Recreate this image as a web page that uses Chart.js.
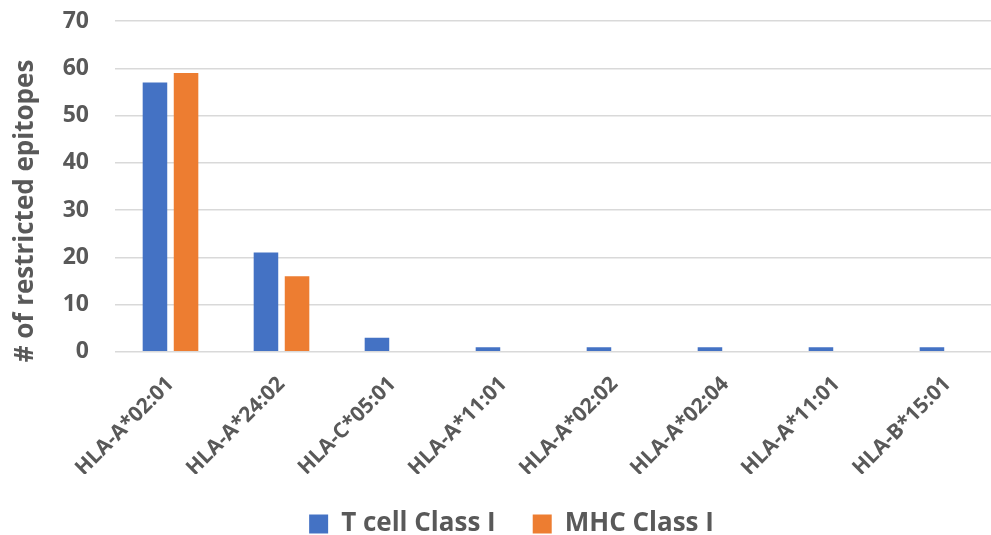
<!DOCTYPE html>
<html>
<head>
<meta charset="utf-8">
<script src="https://cdn.jsdelivr.net/npm/chart.js@4"></script>
<style>
  html, body { margin: 0; padding: 0; background: #ffffff; overflow: hidden; }
  #wrap { width: 1003px; height: 535px; position: relative; }
</style>
</head>
<body>
<div id="wrap"><canvas id="chart"></canvas></div>
<script>
// HLA alleles and the number of restricted epitopes per allele
const alleles = ['HLA-A*02:01', 'HLA-A*24:02', 'HLA-C*05:01', 'HLA-A*11:01',
                 'HLA-A*02:02', 'HLA-A*02:04', 'HLA-A*11:01', 'HLA-B*15:01'];
const tCellClassI = [57, 21, 3, 1, 1, 1, 1, 1];
const mhcClassI   = [59, 16, 0, 0, 0, 0, 0, 0];
const seriesNames = ['T cell Class I', 'MHC Class I'];
const yTicks = [0, 10, 20, 30, 40, 50, 60, 70];
const yTitle = '# of restricted epitopes';

const textColor = '#595959';
const fontFamily = '"Open Sans", "Liberation Sans", sans-serif';

// vertical axis title, drawn beside the value labels
const yTitlePlugin = {
  id: 'yTitle',
  afterDraw(chart) {
    const ctx = chart.ctx;
    ctx.save();
    ctx.translate(26, 211);
    ctx.rotate(-Math.PI / 2);
    ctx.font = 'bold 26px ' + fontFamily;
    ctx.fillStyle = textColor;
    ctx.textAlign = 'center';
    ctx.textBaseline = 'middle';
    ctx.fillText(yTitle, 0, 0);
    ctx.restore();
  }
};

new Chart(document.getElementById('chart'), {
  type: 'bar',
  data: {
    labels: alleles,
    datasets: [
      { label: seriesNames[0], data: tCellClassI, backgroundColor: '#4472C4' },
      { label: seriesNames[1], data: mhcClassI, backgroundColor: '#ED7D31' }
    ]
  },
  options: {
    responsive: true,
    maintainAspectRatio: false,
    animation: false,
    datasets: { bar: { barPercentage: 0.79, categoryPercentage: 0.56 } },
    layout: { padding: { left: 20, right: 0, top: 21, bottom: -12 } },
    scales: {
      x: {
        grid: { display: false },
        border: { display: false },
        afterFit(scale) { scale.height -= 19; },
        ticks: {
          color: textColor,
          font: { family: fontFamily, size: 21, weight: 'bold' },
          minRotation: 45, maxRotation: 45,
          padding: 12
        }
      },
      y: {
        min: 0, max: 70,
        afterBuildTicks(scale) { scale.ticks = yTicks.map(v => ({ value: v })); },
        afterFit(scale) {
          scale.width = 95;
          scale.paddingTop = 0;
          scale.paddingBottom = 0;
        },
        grid: { color: '#D9D9D9', lineWidth: 1.5, drawTicks: false },
        border: { display: false },
        ticks: {
          color: textColor,
          font: { family: fontFamily, size: 23, weight: 'bold' },
          padding: 26
        }
      }
    },
    plugins: {
      legend: {
        position: 'bottom',
        labels: {
          color: textColor,
          font: { family: fontFamily, size: 26, weight: 'bold' },
          boxWidth: 19, boxHeight: 19,
          padding: 37
        }
      },
      tooltip: { enabled: false }
    }
  },
  plugins: [yTitlePlugin]
});
</script>
</body>
</html>
